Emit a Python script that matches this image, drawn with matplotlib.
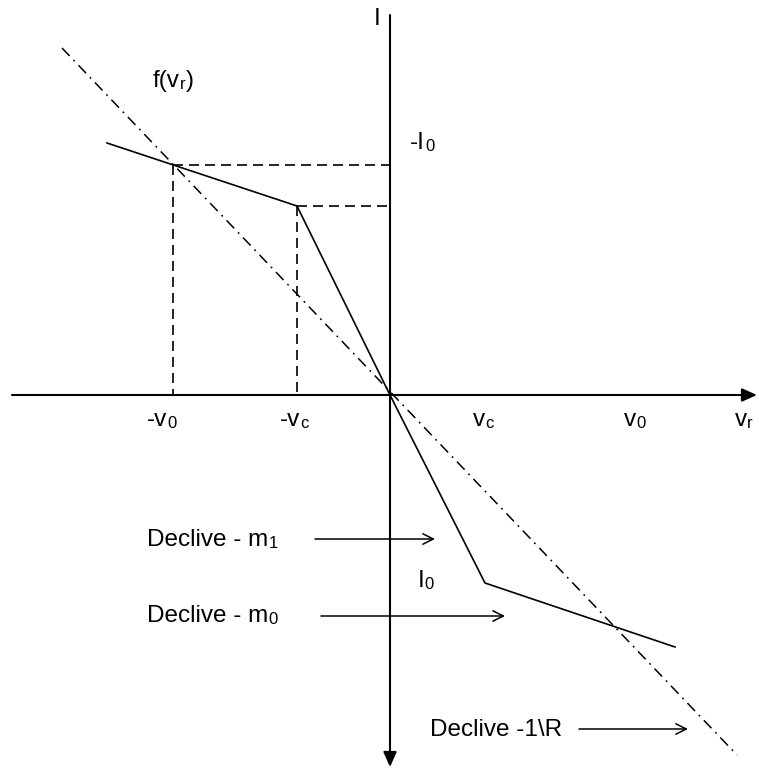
import matplotlib
matplotlib.use('Agg')
from matplotlib import pyplot as plt

plt.rcParams['font.family'] = ['Liberation Sans', 'DejaVu Sans']

# diagram coordinates, origin at the crossing of the axes, y pointing up
curve_x = [-283, -93, 0, 95, 285]
curve_i = [252, 189, 0, -188, -252]

# load line, slope -1/R
load_x = [-328, 347]
load_i = [347, -360]

# breakpoints projected on the axes
v0_left, i0_top = -217, 230
vc_left, ic_top = -93, 189

x_axis = (-378, 367)
y_axis = (380, -372)

# (x, y, pieces) where a piece is (string, is_subscript)
labels = [
    (-16, 370, [('I', False)]),
    (-237, 308, [('f(v', False), ('r', True), (')', False)]),
    (20, 246, [('-I', False), ('0', True)]),
    (-243, -31, [('-v', False), ('0', True)]),
    (-110, -31, [('-v', False), ('c', True)]),
    (83, -31, [('v', False), ('c', True)]),
    (234, -31, [('v', False), ('0', True)]),
    (345, -31, [('v', False), ('r', True)]),
    (28, -192, [('I', False), ('0', True)]),
    (-243, -151, [('Declive - m', False), ('1', True)]),
    (-243, -227, [('Declive - m', False), ('0', True)]),
    (40, -341, [('Declive -1\\R', False)]),
]

# pointer arrows next to the "Declive" labels: (x start, x end, y)
pointers = [(-75, 45, -144), (-69, 115, -221), (189, 298, -334)]

fig = plt.figure(figsize=(7.59, 7.70), dpi=100)
ax = fig.add_axes([0, 0, 1, 1])
ax.set_xlim(-390, 369)
ax.set_ylim(-375, 395)
ax.axis('off')

# axes with arrow heads
axis_arrow = dict(arrowstyle='-|>,head_length=0.45,head_width=0.2', lw=1.5,
                  color='black', mutation_scale=20, shrinkA=0, shrinkB=0)
ax.annotate('', xy=(x_axis[1], 0), xytext=(x_axis[0], 0), arrowprops=axis_arrow)
ax.annotate('', xy=(0, y_axis[1]), xytext=(0, y_axis[0]), arrowprops=axis_arrow)

# piecewise linear characteristic
ax.plot(curve_x, curve_i, color='black', lw=1.2)

# load line
ax.plot(load_x, load_i, color='black', lw=1.1, linestyle=(0, (7.2, 3.6, 1.2, 3.6)))

# dashed projections
dash = dict(color='black', lw=1.2, linestyle=(0, (6, 3.6)))
ax.plot([v0_left, 0], [i0_top, i0_top], **dash)
ax.plot([v0_left, v0_left], [i0_top, 0], **dash)
ax.plot([vc_left, 0], [ic_top, ic_top], **dash)
ax.plot([vc_left, vc_left], [ic_top, 0], **dash)

for x0, x1, y in pointers:
    ax.annotate('', xy=(x1, y), xytext=(x0, y),
                arrowprops=dict(arrowstyle='->,head_length=0.5,head_width=0.25', lw=1.1,
                                color='black', mutation_scale=15, shrinkA=0, shrinkB=0))

main_size = 17.5
sub_size = 12
for x, y, pieces in labels:
    prev = None
    for s, sub in pieces:
        size = sub_size if sub else main_size
        if prev is None:
            prev = ax.text(x, y, s, fontsize=size, ha='left', va='baseline')
        else:
            prev = ax.annotate(s, xy=(1, 0), xycoords=prev, fontsize=size,
                               ha='left', va='bottom')

fig.savefig('out.png', dpi=100)
